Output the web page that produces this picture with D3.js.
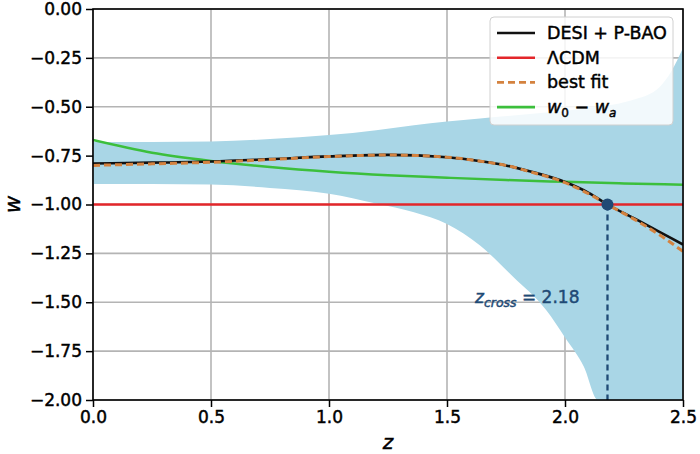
<!DOCTYPE html>
<html>
<head>
<meta charset="utf-8">
<script src="https://cdn.jsdelivr.net/npm/d3@7"></script>
<style>
  body { margin: 0; background: #fff; }
  svg text { font-family: "DejaVu Sans", sans-serif; stroke-width: 0.45px; }
</style>
</head>
<body>
<div id="vis"></div>
<script>
var width = 700;
var height = 454;
var margin = { top: 9, right: 17, bottom: 54, left: 93 };

// DESI + P-BAO reconstruction
var desiZ = [0, 0.25, 0.5, 0.75, 1.0, 1.25, 1.5, 1.65, 1.75, 1.85, 2.0, 2.1, 2.18, 2.3, 2.4, 2.5];
var desiW = [-0.79, -0.786, -0.78, -0.768, -0.754, -0.746, -0.758, -0.78, -0.80, -0.83, -0.885, -0.94, -1.0, -1.075, -1.14, -1.205];

// best fit (dashed)
var fitZ = [0, 0.25, 0.5, 0.75, 1.0, 1.25, 1.5, 1.65, 1.75, 1.85, 2.0, 2.1, 2.18, 2.3, 2.4, 2.5];
var fitW = [-0.80, -0.792, -0.784, -0.77, -0.755, -0.747, -0.758, -0.78, -0.80, -0.832, -0.888, -0.945, -1.0, -1.08, -1.155, -1.24];

// w0 - wa curve
var cplZ = [0, 0.25, 0.5, 0.75, 1.0, 1.25, 1.5, 1.75, 2.0, 2.25, 2.5];
var cplW = [-0.67, -0.735, -0.777, -0.808, -0.832, -0.85, -0.863, -0.875, -0.884, -0.892, -0.899];

// uncertainty band
var bandZ = [0, 0.25, 0.5, 0.75, 1.0, 1.2, 1.36, 1.5, 1.64, 1.78, 1.92, 2.0, 2.08, 2.14, 2.2, 2.3, 2.35, 2.4, 2.45, 2.5];
var bandHi = [-0.68, -0.68, -0.678, -0.665, -0.645, -0.62, -0.595, -0.575, -0.56, -0.545, -0.53, -0.52, -0.51, -0.5, -0.49, -0.46, -0.44, -0.4, -0.32, -0.2];
var bandLo = [-0.895, -0.895, -0.898, -0.915, -0.945, -0.995, -1.04, -1.10, -1.21, -1.37, -1.54, -1.68, -1.83, -2.0, -2.0, -2.0, -2.0, -2.0, -2.0, -2.0];

var lcdmW = -1.0;
var zCross = 2.18;

var xTicks = [0, 0.5, 1.0, 1.5, 2.0, 2.5];
var yTicks = [0, -0.25, -0.5, -0.75, -1.0, -1.25, -1.5, -1.75, -2.0];

var legendLabels = ["DESI + P-BAO", "ΛCDM", "best fit", "w0 − wa"];

var colBlack = "#111111", colRed = "#e3262a", colOrange = "#d4823f",
    colGreen = "#3cbf3c", colBand = "#a9d6e6", colNavy = "#1f4a75";

var svg = d3.select('#vis').append('svg')
    .attr('width', width)
    .attr('height', height);

var innerW = width - margin.left - margin.right;
var innerH = height - margin.top - margin.bottom;

var x = d3.scaleLinear().domain([0, 2.5]).range([margin.left, margin.left + innerW]);
var y = d3.scaleLinear().domain([-2, 0]).range([margin.top + innerH, margin.top]);

svg.append('clipPath').attr('id', 'clip')
    .append('rect')
    .attr('x', margin.left).attr('y', margin.top)
    .attr('width', innerW).attr('height', innerH);

// grid
var grid = svg.append('g');
grid.selectAll('line.gx').data(xTicks).enter().append('line')
    .attr('x1', function (d) { return x(d); }).attr('x2', function (d) { return x(d); })
    .attr('y1', margin.top).attr('y2', margin.top + innerH)
    .attr('stroke', '#b4b4b4').attr('stroke-width', 1.6);
grid.selectAll('line.gy').data(yTicks).enter().append('line')
    .attr('y1', function (d) { return y(d); }).attr('y2', function (d) { return y(d); })
    .attr('x1', margin.left).attr('x2', margin.left + innerW)
    .attr('stroke', '#b4b4b4').attr('stroke-width', 1.6);

var plot = svg.append('g').attr('clip-path', 'url(#clip)');

// band
var bandData = bandZ.map(function (z, i) { return { z: z, lo: bandLo[i], hi: bandHi[i] }; });
plot.append('path')
    .datum(bandData)
    .attr('fill', colBand)
    .attr('d', d3.area()
        .curve(d3.curveMonotoneX)
        .x(function (d) { return x(d.z); })
        .y0(function (d) { return y(d.lo); })
        .y1(function (d) { return y(d.hi); }));

function zip(zs, ws) {
    return zs.map(function (z, i) { return [z, ws[i]]; });
}
var line = d3.line()
    .curve(d3.curveMonotoneX)
    .x(function (d) { return x(d[0]); })
    .y(function (d) { return y(d[1]); });

// LCDM
plot.append('line')
    .attr('x1', x(0)).attr('x2', x(2.5))
    .attr('y1', y(lcdmW)).attr('y2', y(lcdmW))
    .attr('stroke', colRed).attr('stroke-width', 2.5);

// w0-wa
plot.append('path').datum(zip(cplZ, cplW))
    .attr('fill', 'none').attr('stroke', colGreen).attr('stroke-width', 2.5)
    .attr('d', line);

// DESI
plot.append('path').datum(zip(desiZ, desiW))
    .attr('fill', 'none').attr('stroke', colBlack).attr('stroke-width', 2.6)
    .attr('d', line);

// best fit
plot.append('path').datum(zip(fitZ, fitW))
    .attr('fill', 'none').attr('stroke', colOrange).attr('stroke-width', 3)
    .attr('stroke-dasharray', '7,4')
    .attr('d', line);

// crossing marker
plot.append('line')
    .attr('x1', x(zCross)).attr('x2', x(zCross))
    .attr('y1', y(lcdmW)).attr('y2', y(-2))
    .attr('stroke', colNavy).attr('stroke-width', 2.3)
    .attr('stroke-dasharray', '6,4');
plot.append('circle')
    .attr('cx', x(zCross)).attr('cy', y(lcdmW)).attr('r', 6)
    .attr('fill', colNavy);

var ann = svg.append('text')
    .attr('x', x(zCross) - 28).attr('y', y(-1.5) + 1)
    .attr('text-anchor', 'end')
    .attr('fill', colNavy).attr('stroke', colNavy)
    .style('font-size', '17px');
ann.append('tspan').style('font-style', 'italic').text('z');
ann.append('tspan').style('font-style', 'italic').style('font-size', '12.5px').attr('dy', 4).text('cross');
ann.append('tspan').attr('dy', -4).text(' = ' + zCross.toFixed(2));

// axes
var xAxis = svg.append('g')
    .attr('transform', 'translate(0,' + (margin.top + innerH) + ')')
    .call(d3.axisBottom(x).tickValues(xTicks).tickFormat(d3.format('.1f')).tickSizeOuter(0).tickSize(7).tickPadding(4));
var yAxis = svg.append('g')
    .attr('transform', 'translate(' + margin.left + ',0)')
    .call(d3.axisLeft(y).tickValues(yTicks).tickFormat(d3.format('.2f')).tickSizeOuter(0).tickSize(7).tickPadding(4));
[xAxis, yAxis].forEach(function (a) {
    a.select('.domain').remove();
    a.selectAll('line').attr('stroke', '#000').attr('stroke-width', 1.5);
    a.selectAll('text').attr('fill', '#000').attr('stroke', '#000').style('font-size', '17px');
});

// frame
svg.append('rect')
    .attr('x', margin.left).attr('y', margin.top)
    .attr('width', innerW).attr('height', innerH)
    .attr('fill', 'none').attr('stroke', '#000').attr('stroke-width', 1.6);

// axis labels
svg.append('text')
    .attr('x', x(1.25)).attr('y', 443)
    .attr('dominant-baseline', 'middle')
    .attr('text-anchor', 'middle').attr('stroke', '#000')
    .style('font-style', 'italic').style('font-size', '20px')
    .text('z');
svg.append('text')
    .attr('transform', 'translate(20,' + y(-1) + ') rotate(-90)')
    .attr('text-anchor', 'middle').attr('stroke', '#000')
    .style('font-style', 'italic').style('font-size', '21px')
    .text('w');

// legend
var leg = svg.append('g').attr('transform', 'translate(490,17)');
leg.append('rect')
    .attr('width', 183).attr('height', 108).attr('rx', 4)
    .attr('fill', '#fff').attr('fill-opacity', 0.85)
    .attr('stroke', '#d0d0d0').attr('stroke-width', 1);
var legStyles = [
    { c: colBlack, dash: null },
    { c: colRed, dash: null },
    { c: colOrange, dash: '7,4' },
    { c: colGreen, dash: null }
];
legendLabels.forEach(function (lab, i) {
    var yy = 16 + i * 24.7;
    leg.append('line')
        .attr('x1', 7).attr('x2', 45).attr('y1', yy).attr('y2', yy)
        .attr('stroke', legStyles[i].c).attr('stroke-width', 2.6)
        .attr('stroke-dasharray', legStyles[i].dash);
    var t = leg.append('text').attr('x', 57).attr('y', yy + 6)
        .attr('stroke', '#000').style('font-size', '17.5px');
    if (i === 3) {
        t.append('tspan').style('font-style', 'italic').text('w');
        t.append('tspan').style('font-size', '12px').attr('dy', 4).text('0');
        t.append('tspan').attr('dy', -4).text(' − ');
        t.append('tspan').style('font-style', 'italic').text('w');
        t.append('tspan').style('font-size', '12px').style('font-style', 'italic').attr('dy', 4).text('a');
    } else {
        t.text(lab);
    }
});
</script>
</body>
</html>
